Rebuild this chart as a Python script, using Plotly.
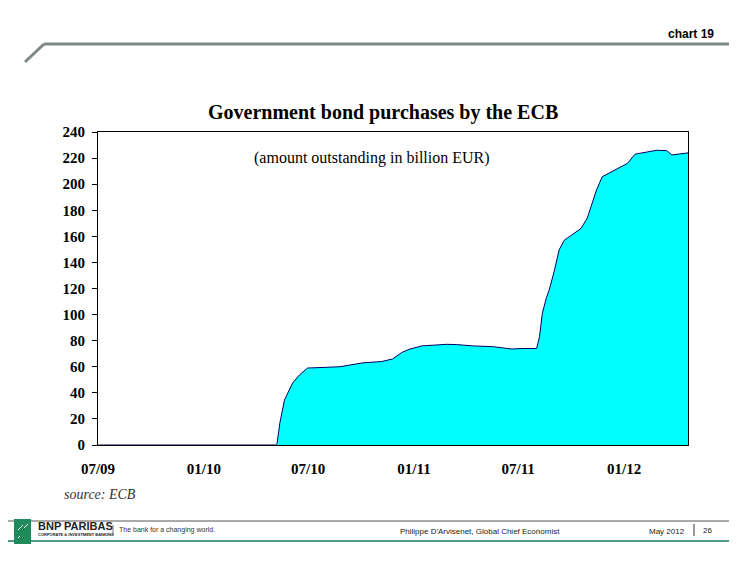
import plotly.graph_objects as go

# ---------------- data ----------------
dates = [
    "2009-07-01", "2009-09-01", "2009-11-01", "2010-01-01", "2010-03-01", "2010-05-06",
    "2010-05-08", "2010-05-13", "2010-05-21", "2010-06-04", "2010-06-16", "2010-06-30",
    "2010-08-25", "2010-09-24", "2010-10-04", "2010-11-06", "2010-11-25", "2010-12-11",
    "2010-12-25", "2011-01-15", "2011-02-27", "2011-03-16", "2011-04-13", "2011-05-18",
    "2011-06-20", "2011-07-09", "2011-08-02", "2011-08-07", "2011-08-12", "2011-08-19",
    "2011-08-24", "2011-09-02", "2011-09-10", "2011-09-19", "2011-10-01", "2011-10-18",
    "2011-10-29", "2011-11-05", "2011-11-14", "2011-11-24", "2011-12-11", "2011-12-25",
    "2012-01-07", "2012-01-20", "2012-02-10", "2012-02-27", "2012-03-15", "2012-03-24",
    "2012-04-16", "2012-04-21",
]
amount = [
    0, 0, 0, 0, 0, 0,
    1, 17, 34.5, 47.5, 53.7, 59,
    60, 62, 63, 64, 66, 71,
    73.6, 76, 77.2, 77, 76, 75.4,
    73.6, 74, 74, 83, 101, 113,
    119, 134, 149.5, 157, 161, 166,
    174, 184, 195.5, 205.7, 209.6, 213.4,
    216, 223, 224.4, 226, 225.7, 222.4,
    223.7, 224,
]
tick_dates = ["2009-07-01", "2010-01-01", "2010-07-01", "2011-01-01", "2011-07-01", "2012-01-01"]
tick_text = ["07/09", "01/10", "07/10", "01/11", "07/11", "01/12"]
y_ticks = list(range(0, 241, 20))

title = "Government bond purchases by the ECB"
subtitle = "(amount outstanding in billion EUR)"
source = "source: ECB"

# ---------------- geometry helpers (window pixel -> paper) ----------------
OFF = 8                       # page body margin
W, H = 737 - OFF, 567 - OFF   # figure size so it fits the window
L, R, T, B = 98, 688, 132, 445  # plot area in window pixels


def px(x):
    return (x - L) / (R - L)


def py(y):
    return (B - y) / (B - T)


fig = go.Figure()
fig.add_trace(go.Scatter(
    x=dates, y=amount, mode="lines",
    line=dict(color="#000066", width=1),
    fill="tozeroy", fillcolor="#00FFFF",
    hoverinfo="x+y", showlegend=False,
))

serif = "Liberation Serif, Times New Roman, serif"
sans = "Liberation Sans, Arial, sans-serif"

fig.update_layout(
    width=W, height=H,
    margin=dict(l=L - OFF, r=737 - R, t=T - OFF, b=567 - B),
    paper_bgcolor="white", plot_bgcolor="white",
    xaxis=dict(
        type="date", range=["2009-07-01", "2012-04-21"],
        tickmode="array", tickvals=tick_dates, ticktext=tick_text,
        showgrid=False, zeroline=False,
        showline=True, linecolor="black", linewidth=1, mirror=True,
        ticks="", ticklabelstandoff=10,
        tickfont=dict(family=serif, size=15, color="black", weight="bold"),
    ),
    yaxis=dict(
        range=[0, 240], tickmode="array", tickvals=y_ticks,
        showgrid=False, zeroline=False,
        showline=True, linecolor="black", linewidth=1, mirror=True,
        ticks="outside", ticklen=5, tickcolor="black", ticklabelstandoff=4,
        tickfont=dict(family=serif, size=15, color="black", weight="bold"),
    ),
)

ann = []
ann.append(dict(text=f"<b>{title}</b>", x=px(383), y=py(112), xref="paper", yref="paper",
                showarrow=False, xanchor="center", yanchor="middle",
                font=dict(family=serif, size=20, color="black")))
ann.append(dict(text=subtitle, x=px(372), y=py(158), xref="paper", yref="paper",
                showarrow=False, xanchor="center", yanchor="middle",
                font=dict(family=serif, size=16, color="black")))
ann.append(dict(text=f"<i>{source}</i>", x=px(62), y=py(494), xref="paper", yref="paper",
                showarrow=False, xanchor="left", yanchor="middle",
                font=dict(family=serif, size=14, color="#333333")))
ann.append(dict(text="<b>chart 19</b>", x=px(716), y=py(34), xref="paper", yref="paper",
                showarrow=False, xanchor="right", yanchor="middle",
                font=dict(family="Liberation Sans Narrow, Arial Narrow, sans-serif", size=12, color="black")))
# footer texts
ann.append(dict(text="<b>BNP PARIBAS</b>", x=px(36), y=py(526), xref="paper", yref="paper",
                showarrow=False, xanchor="left", yanchor="middle",
                font=dict(family="Liberation Sans Narrow, Arial Narrow, sans-serif", size=11, color="#222222")))
ann.append(dict(text="<b>CORPORATE & INVESTMENT BANKING</b>", x=px(36), y=py(534), xref="paper", yref="paper",
                showarrow=False, xanchor="left", yanchor="middle",
                font=dict(family="Liberation Sans Narrow, Arial Narrow, sans-serif", size=4, color="#222222")))
ann.append(dict(text="The bank for a changing world.", x=px(117), y=py(530), xref="paper", yref="paper",
                showarrow=False, xanchor="left", yanchor="middle",
                font=dict(family="Liberation Sans Narrow, Arial Narrow, sans-serif", size=7, color="#333333")))
ann.append(dict(text="Philippe D'Arvisenet, Global Chief Economist", x=px(398), y=py(531), xref="paper", yref="paper",
                showarrow=False, xanchor="left", yanchor="middle",
                font=dict(family=sans, size=8, color="#222222")))
ann.append(dict(text="May 2012", x=px(647), y=py(531), xref="paper", yref="paper",
                showarrow=False, xanchor="left", yanchor="middle",
                font=dict(family=sans, size=8, color="#222222")))
ann.append(dict(text="26", x=px(701), y=py(530), xref="paper", yref="paper",
                showarrow=False, xanchor="left", yanchor="middle",
                font=dict(family=sans, size=8, color="#222222")))
fig.update_layout(annotations=ann)

shapes = []
gray = "#7f8888"
# header line
shapes.append(dict(type="line", xref="paper", yref="paper", x0=px(25), y0=py(62), x1=px(44), y1=py(44),
                   line=dict(color=gray, width=3)))
shapes.append(dict(type="line", xref="paper", yref="paper", x0=px(44), y0=py(44), x1=px(737), y1=py(44),
                   line=dict(color=gray, width=3)))
# footer lines
shapes.append(dict(type="line", xref="paper", yref="paper", x0=px(8), y0=py(521), x1=px(737), y1=py(521),
                   line=dict(color="#555555", width=1)))
shapes.append(dict(type="line", xref="paper", yref="paper", x0=px(8), y0=py(541), x1=px(737), y1=py(541),
                   line=dict(color="#4f9a88", width=2)))
# logo
shapes.append(dict(type="rect", xref="paper", yref="paper", x0=px(14), y0=py(519), x1=px(31), y1=py(544),
                   line=dict(width=0), fillcolor="#1f8a5a"))
shapes.append(dict(type="line", xref="paper", yref="paper", x0=px(18), y0=py(530), x1=px(23), y1=py(525),
                   line=dict(color="white", width=1)))
shapes.append(dict(type="line", xref="paper", yref="paper", x0=px(24), y0=py(528), x1=px(28), y1=py(524),
                   line=dict(color="white", width=1)))
shapes.append(dict(type="line", xref="paper", yref="paper", x0=px(18), y0=py(538), x1=px(20), y1=py(536),
                   line=dict(color="white", width=1)))
# separators
shapes.append(dict(type="line", xref="paper", yref="paper", x0=px(113), y0=py(525), x1=px(113), y1=py(535),
                   line=dict(color="#777777", width=1)))
shapes.append(dict(type="line", xref="paper", yref="paper", x0=px(694), y0=py(524), x1=px(694), y1=py(536),
                   line=dict(color="#333333", width=1)))
fig.update_layout(shapes=shapes)

fig.write_html("out.html")
